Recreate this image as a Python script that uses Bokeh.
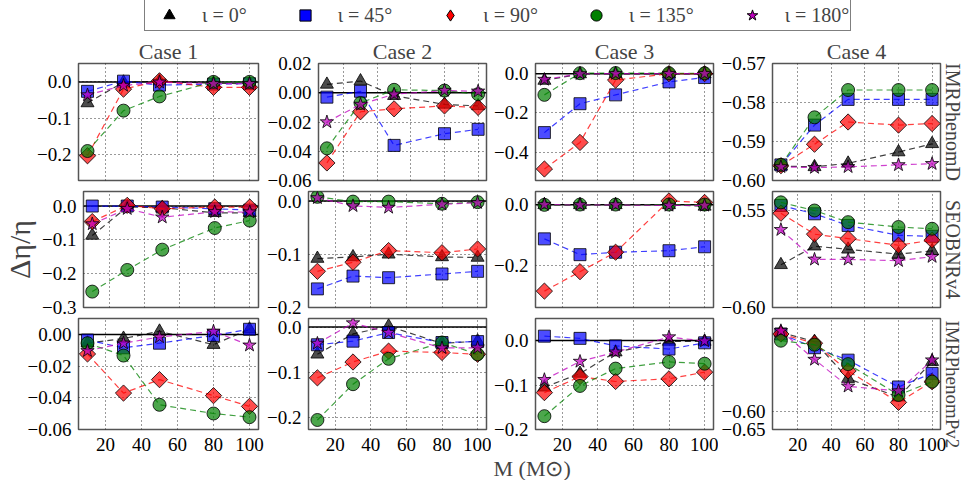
import numpy as np
from bokeh.plotting import figure
from bokeh.layouts import column, row
from bokeh.models import (Range1d, FixedTicker, CustomJSTickFormatter, Span,
                          Title, Legend, LegendItem)
from bokeh.embed import file_html
from bokeh.resources import INLINE

# ---------------- data ----------------
masses = [10, 30, 50, 80, 100]
x_ticks = [20, 40, 60, 80, 100]
incl_labels = ["ι = 0°", "ι = 45°", "ι = 90°", "ι = 135°", "ι = 180°"]
case_titles = ["Case 1", "Case 2", "Case 3", "Case 4"]
model_names = ["IMRPhenomD", "SEOBNRv4", "IMRPhenomPv2"]

# each panel: series for inclination 0, 45, 90, 135, 180 deg
imrd_case1 = [[-0.058, -0.001, 0.002, -0.004, -0.005],
              [-0.026, 0.002, -0.009, -0.006, -0.005],
              [-0.203, -0.020, 0.003, -0.015, -0.015],
              [-0.190, -0.079, -0.040, 0.000, 0.000],
              [-0.036, -0.010, -0.001, -0.005, -0.005]]
imrd_case2 = [[0.0057, 0.008, -0.002, -0.008, -0.009],
              [-0.003, 0.001, -0.036, -0.028, -0.025],
              [-0.048, -0.013, -0.011, -0.009, -0.010],
              [-0.038, -0.007, 0.002, 0.0015, -0.001],
              [-0.020, -0.008, -0.001, 0.0015, 0.001]]
imrd_case3 = [[-0.035, -0.002, -0.001, -0.001, -0.002],
              [-0.300, -0.153, -0.108, -0.042, -0.020],
              [-0.485, -0.350, -0.033, 0.000, 0.000],
              [-0.108, 0.002, 0.003, 0.002, 0.002],
              [-0.030, -0.001, 0.000, 0.000, 0.000]]
imrd_case4 = [[-0.5963, -0.5965, -0.5956, -0.5927, -0.5906],
              [-0.5960, -0.5858, -0.5792, -0.5792, -0.5792],
              [-0.5962, -0.5907, -0.5850, -0.5858, -0.5854],
              [-0.5960, -0.5838, -0.5768, -0.5768, -0.5768],
              [-0.5965, -0.5967, -0.5965, -0.5960, -0.5957]]

seob_case1 = [[-0.087, -0.003, -0.005, -0.020, -0.020],
              [0.000, 0.000, -0.003, -0.008, -0.012],
              [-0.046, 0.002, -0.008, -0.003, -0.003],
              [-0.253, -0.189, -0.129, -0.065, -0.043],
              [-0.053, -0.008, -0.033, -0.017, -0.018]]
seob_case2 = [[-0.108, -0.105, -0.100, -0.105, -0.106],
              [-0.165, -0.141, -0.144, -0.137, -0.132],
              [-0.132, -0.115, -0.093, -0.097, -0.090],
              [0.008, -0.001, -0.001, -0.005, -0.002],
              [0.006, -0.009, -0.012, -0.006, -0.003]]
seob_case3 = [[0.000, 0.000, 0.000, 0.000, -0.005],
              [-0.112, -0.164, -0.156, -0.151, -0.138],
              [-0.284, -0.220, -0.156, 0.013, 0.008],
              [0.000, 0.001, 0.001, 0.001, 0.001],
              [0.001, 0.000, 0.000, -0.002, -0.002]]
seob_case4 = [[-0.5780, -0.5684, -0.5700, -0.5725, -0.5708],
              [-0.5474, -0.5517, -0.5577, -0.5628, -0.5633],
              [-0.5514, -0.5622, -0.5645, -0.5679, -0.5653],
              [-0.5458, -0.5500, -0.5560, -0.5585, -0.5594],
              [-0.5599, -0.5752, -0.5752, -0.5759, -0.5738]]

pv2_case1 = [[-0.0055, -0.0025, 0.0020, -0.0064, 0.0033],
             [-0.0035, -0.0084, -0.0055, -0.0006, 0.0033],
             [-0.0123, -0.0370, -0.0285, -0.0386, -0.0454],
             [-0.0055, -0.0133, -0.0444, -0.0499, -0.0522],
             [-0.0103, -0.0055, -0.0016, 0.0020, -0.0068]]
pv2_case2 = [[-0.060, -0.015, 0.002, -0.036, -0.031],
             [-0.039, -0.031, -0.012, -0.034, -0.032],
             [-0.112, -0.077, -0.053, -0.056, -0.060],
             [-0.205, -0.126, -0.070, -0.034, -0.060],
             [-0.036, 0.009, -0.012, -0.046, -0.046]]
pv2_case3 = [[-0.105, -0.074, -0.026, -0.002, -0.002],
             [0.010, 0.005, -0.012, -0.019, -0.005],
             [-0.117, -0.081, -0.092, -0.086, -0.071],
             [-0.170, -0.102, -0.063, -0.048, -0.052],
             [-0.088, -0.047, -0.026, 0.008, -0.001]]
pv2_case4 = [[-0.3875, -0.4125, -0.5125, -0.5625, -0.4667],
             [-0.3917, -0.4290, -0.4625, -0.5350, -0.4983],
             [-0.3920, -0.4167, -0.4917, -0.5767, -0.5208],
             [-0.4100, -0.4208, -0.4733, -0.5567, -0.5208],
             [-0.3833, -0.4608, -0.5333, -0.5458, -0.4625]]

panels = [[imrd_case1, imrd_case2, imrd_case3, imrd_case4],
          [seob_case1, seob_case2, seob_case3, seob_case4],
          [pv2_case1, pv2_case2, pv2_case3, pv2_case4]]

y_limits = [[(-0.271, 0.0505), (-0.06, 0.02), (-0.5435, 0.0515), (-0.60, -0.57)],
            [(-0.30, 0.043), (-0.20, 0.018), (-0.338, 0.044), (-0.60, -0.5402)],
            [(-0.06, 0.0101), (-0.226, 0.019), (-0.20, 0.0497), (-0.65, -0.35)]]
y_tick_values = [[[0.0, -0.1, -0.2], [0.02, 0.0, -0.02, -0.04, -0.06],
                  [0.0, -0.2, -0.4], [-0.57, -0.58, -0.59, -0.60]],
                 [[0.0, -0.1, -0.2, -0.3], [0.0, -0.1, -0.2],
                  [0.0, -0.2], [-0.55, -0.60]],
                 [[0.0, -0.02, -0.04, -0.06], [0.0, -0.1, -0.2],
                  [0.0, -0.1, -0.2], [-0.60, -0.65]]]
y_tick_decimals = [[1, 2, 1, 2], [1, 1, 1, 2], [2, 1, 1, 2]]

# ---------------- styles ----------------
FONT = "Liberation Serif"
colors = ["#000000", "#0000ff", "#ff0000", "#008000", "#bf00bf"]
markers = ["triangle", "square", "square", "circle", "star"]
leg_markers = ["triangle", "square", "diamond", "circle", "star"]
angles = [0, 0, np.pi / 4, 0, 0]
sizes = [13, 12, 11.5, 13, 14]

col_w = [264, 227, 227, 248]
col_bl = [78, 42, 42, 42]
col_br = [6, 5, 5, 26]
row_h = [158, 127, 163]
row_bt = [31, 1, 1]
row_bb = [10, 10, 45]

fmt_code = """
const v = Math.abs(tick) < 1e-9 ? 0 : tick;
const s = Math.abs(v).toFixed(d);
return (v < 0 ? "\\u2212" : "") + s;
"""

rows_out = []
for r in range(3):
    figs = []
    for c in range(4):
        lo, hi = y_limits[r][c]
        p = figure(width=col_w[c], height=row_h[r],
                   x_range=Range1d(5, 105), y_range=Range1d(lo, hi),
                   toolbar_location=None, output_backend="svg",
                   x_axis_location=("below" if r == 2 else None),
                   min_border_left=col_bl[c], min_border_right=col_br[c],
                   min_border_top=row_bt[r], min_border_bottom=row_bb[r])
        p.background_fill_color = "white"
        p.border_fill_color = "white"
        p.outline_line_color = "#555555"
        p.outline_line_width = 1.5

        p.xgrid.ticker = FixedTicker(ticks=x_ticks)
        p.ygrid.ticker = FixedTicker(ticks=y_tick_values[r][c])
        for g in (p.xgrid, p.ygrid):
            g.grid_line_color = "black"
            g.grid_line_dash = "1 3"
            g.grid_line_width = 1
            g.grid_line_alpha = 0.8

        ya = p.yaxis[0]
        ya.ticker = FixedTicker(ticks=y_tick_values[r][c])
        ya.formatter = CustomJSTickFormatter(args=dict(d=y_tick_decimals[r][c]), code=fmt_code)
        ya.axis_line_color = None
        ya.major_tick_line_color = None
        ya.minor_tick_line_color = None
        ya.major_label_standoff = 1
        ya.major_label_text_font = FONT
        ya.major_label_text_font_size = "19px"
        ya.major_label_text_color = "black"

        if r == 2:
            xa = p.xaxis[0]
            xa.ticker = FixedTicker(ticks=x_ticks)
            xa.axis_line_color = None
            xa.major_tick_line_color = None
            xa.minor_tick_line_color = None
            xa.major_label_standoff = 2
            xa.major_label_text_font = FONT
            xa.major_label_text_font_size = "19px"
            xa.major_label_text_color = "black"

        if r == 1 and c == 0:
            ya.axis_label = "Δη/η"
            ya.axis_label_text_font = FONT
            ya.axis_label_text_font_size = "30px"
            ya.axis_label_text_font_style = "normal"
            ya.axis_label_standoff = 3

        if r == 0:
            p.title.text = case_titles[c]
            p.title.align = "center"
            p.title.text_font = FONT
            p.title.text_font_size = "22px"
            p.title.text_font_style = "normal"
            p.title.standoff = 0

        if c == 3:
            if r == 2:
                side_title = Title(text=model_names[r], align="left", offset=2,
                                   text_font=FONT, text_font_size="19px",
                                   text_font_style="normal", standoff=2)
            else:
                side_title = Title(text=model_names[r], align="center",
                                   text_font=FONT, text_font_size="20px",
                                   text_font_style="normal", standoff=2)
            p.add_layout(side_title, "right")

        if r == 2 and c == 2:
            p.add_layout(Title(text="M (M⊙)", align="left", offset=-42, text_font=FONT,
                               text_font_size="22px", text_font_style="normal",
                               standoff=0), "below")

        if c < 3:
            p.add_layout(Span(location=0, dimension="width", line_color="black",
                              line_width=1.5, level="underlay"))

        series = panels[r][c]
        for k in range(5):
            p.line(masses, series[k], line_color=colors[k], line_dash="6 4",
                   line_width=1.2, line_alpha=0.75)
            p.scatter(masses, series[k], marker=markers[k], size=sizes[k],
                      angle=angles[k], fill_color=colors[k], fill_alpha=0.7,
                      line_color="black", line_alpha=0.8, line_width=1)
        figs.append(p)
    rows_out.append(row(*figs))

# ---------------- legend figure ----------------
lf = figure(width=966, height=32, x_range=Range1d(0, 1), y_range=Range1d(0, 1),
            toolbar_location=None, output_backend="svg",
            x_axis_location=None, y_axis_location=None,
            min_border_left=0, min_border_right=0, min_border_top=0, min_border_bottom=0)
lf.outline_line_color = None
lf.grid.visible = False
items = []
for k in range(5):
    # a single off-range point so that the legend has a glyph to draw
    rr = lf.scatter(x=[2], y=[2], marker=leg_markers[k], size=12,
                    fill_color=colors[k], line_color="black", line_width=1)
    items.append(LegendItem(label=incl_labels[k], renderers=[rr]))
leg = Legend(items=items, orientation="horizontal", location=(144, 1),
             label_text_font=FONT, label_text_font_size="20px",
             glyph_width=46, glyph_height=28, label_height=28, label_standoff=10,
             spacing=35, padding=1, margin=0,
             border_line_color="black", border_line_width=1.5,
             background_fill_color="white", background_fill_alpha=1)
lf.add_layout(leg)

layout = column(lf, *rows_out)
with open("out.html", "w", encoding="utf-8") as f:
    f.write(file_html(layout, INLINE))
